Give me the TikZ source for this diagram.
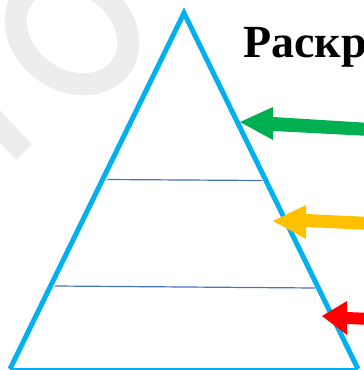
\documentclass[tikz,border=0pt]{standalone}
\usepackage{fontspec}
\setmainfont{Liberation Serif}
\begin{document}
\begin{tikzpicture}[x=1pt,y=-1pt]
\definecolor{skyb}{RGB}{0,176,240}
\definecolor{lvl}{RGB}{68,114,196}
\definecolor{wmg}{RGB}{237,237,237}
\definecolor{gArrow}{RGB}{0,176,80}
\definecolor{yArrow}{RGB}{255,192,0}
\definecolor{rArrow}{RGB}{255,0,0}
\tikzset{
  side/.style={draw=skyb, line width=5pt, line join=miter},
  baseln/.style={draw=skyb, line width=1.5pt},
  level/.style={draw=lvl, line width=1.2pt},
  wm/.style={draw=wmg, line width=22pt}}
\useasboundingbox (0,0) rectangle (364,370);
% watermark
\draw[wm, rotate around={-35:(72,32)}] (72,32) ellipse [x radius=60, y radius=48];
\draw[wm] (-8,118) -- (24,152);
% triangle
\coordinate (A) at (184,13);
\coordinate (L) at (10,369);
\coordinate (R) at (358,369);
\draw[baseln] (L) -- (R);
\draw[level] (107,179.5) -- (262,180.5);
\draw[level] (55,286) -- (315,288);
\draw[side] (L) -- (A) -- (R);
% title
\node[anchor=base west, inner sep=0pt, font=\bfseries\fontsize{46}{50}\selectfont] (title) at (243,57) {Раскраска};
% arrows
\fill[gArrow] (240,122) -- (273,107) -- (273,117) -- (370,123) -- (370,136) -- (273,131) -- (273,140) -- cycle;
\fill[yArrow] (273,221) -- (306,205) -- (306,214) -- (370,217) -- (370,230) -- (306,227) -- (306,239) -- cycle;
\fill[rArrow] (322,316) -- (347,301) -- (347,312) -- (370,313) -- (370,325) -- (347,324) -- (347,335) -- cycle;
\end{tikzpicture}
\end{document}
